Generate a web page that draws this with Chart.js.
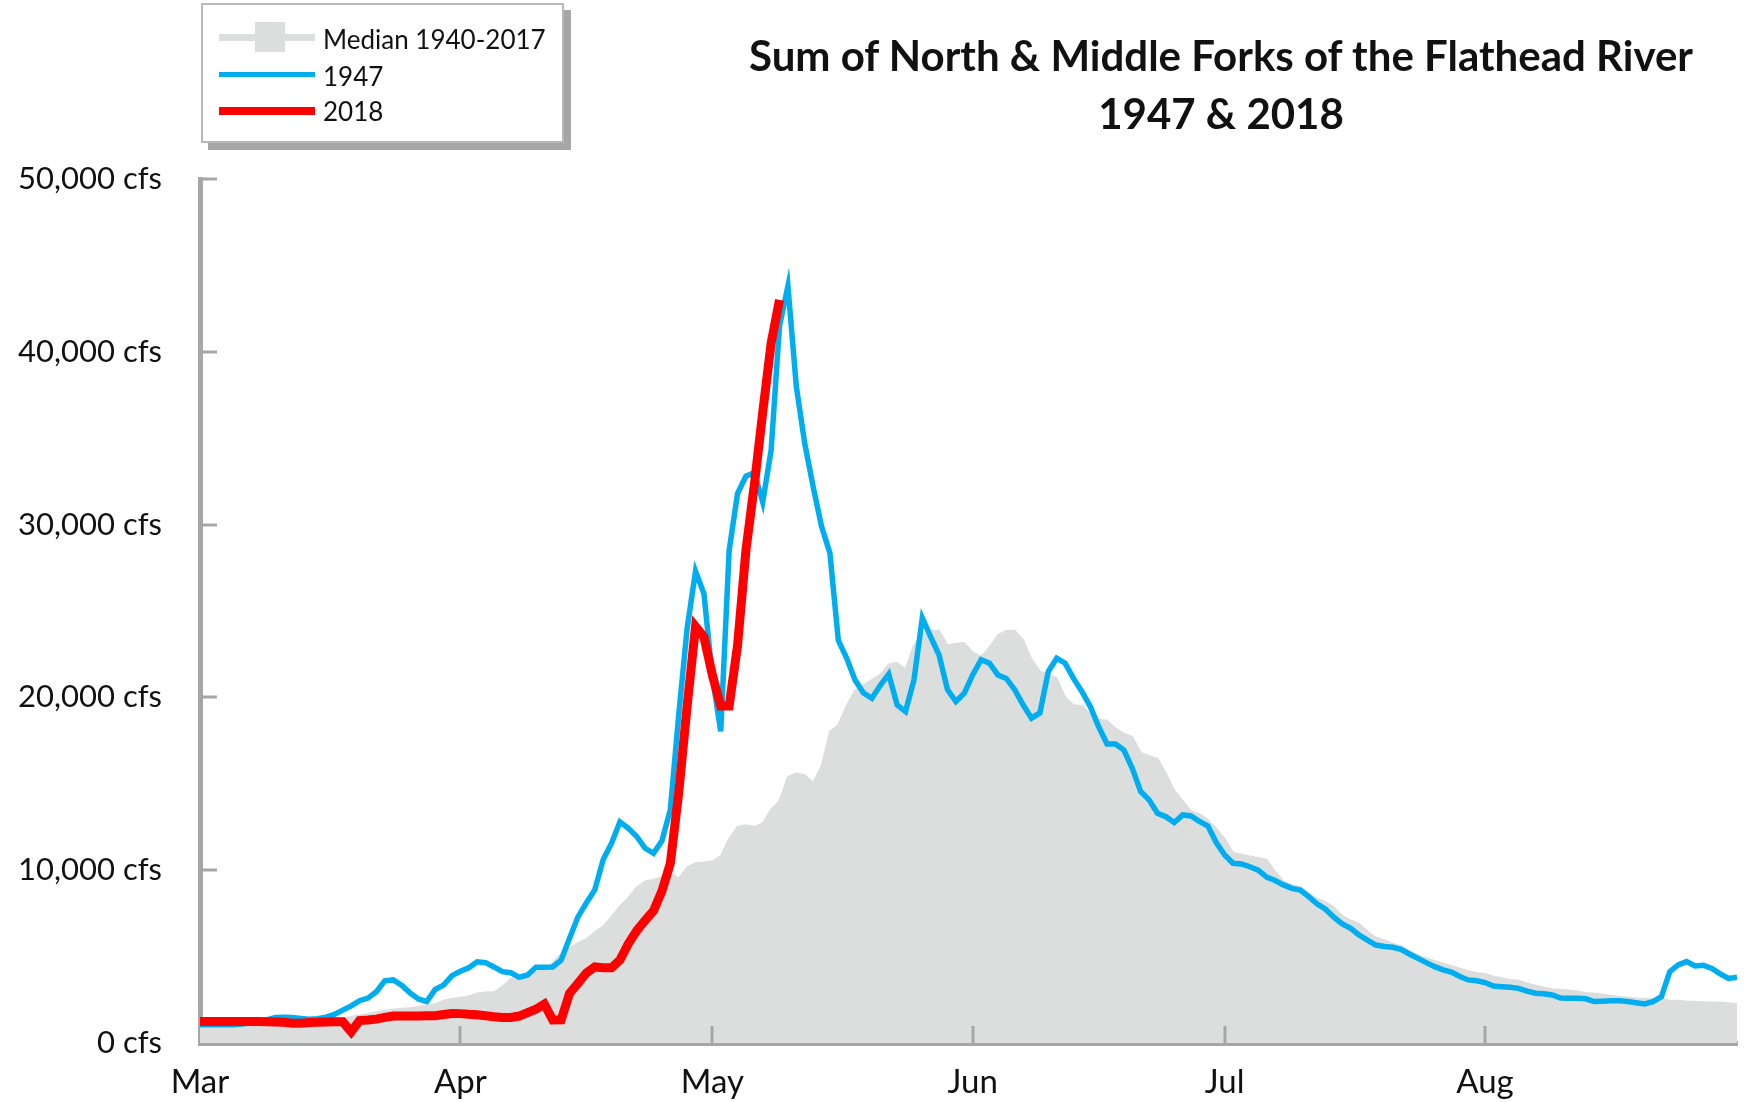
<!DOCTYPE html>
<html>
<head>
<meta charset="utf-8">
<script src="https://cdn.jsdelivr.net/npm/chart.js@4.4.1/dist/chart.umd.min.js"></script>
<style>
    body { margin: 0; background: #fff; }
    #wrap { position: relative; width: 1754px; height: 1102px; }
    #title {
        position: absolute; left: 721px; top: 26px; width: 1000px;
        text-align: center; font-family: Lato, sans-serif; font-weight: bold;
        font-size: 42px; line-height: 58px; color: #111;
    }
    #legend {
        position: absolute; left: 201px; top: 3px; width: 359px; height: 136px;
        border: 2px solid #b8b8b8; background: #fff; box-shadow: 7px 7px 0 #a6a6a6;
    }
    .sw { position: absolute; }
    .lt { position: absolute; font-family: Lato, sans-serif; font-size: 26px; line-height: 26px; color: #111; white-space: nowrap; }
</style>
</head>
<body>
<div id="wrap">
    <canvas id="flowChart" width="1754" height="1102"></canvas>
    <div id="title">Sum of North &amp; Middle Forks of the Flathead River<br>1947 &amp; 2018</div>
    <div id="legend"></div>
</div>
<script>
// daily flow in cfs, starting March 1
const monthLabels = ['Mar', 'Apr', 'May', 'Jun', 'Jul', 'Aug'];
const monthStartDays = [0, 31, 61, 92, 122, 153];
const yTicks = [0, 10000, 20000, 30000, 40000, 50000];

const median = [
    1000, 1000, 1000, 1010, 1020, 1030, 1050, 1080, 1100, 1130,
    1150, 1180, 1200, 1250, 1300, 1350, 1400, 1450, 1500, 1600,
    1680, 1780, 1870, 1930, 1980, 2010, 2080, 2150, 2250, 2450,
    2550, 2620, 2700, 2870, 2920, 2950, 3250, 3700, 3930, 4000,
    4100, 4250, 4650, 5150, 5450, 5800, 6000, 6400, 6750, 7300,
    7900, 8400, 9000, 9350, 9450, 9600, 9850, 9500, 10150, 10400,
    10450, 10500, 10800, 11800, 12500, 12600, 12500, 12700, 13500, 14000,
    15400, 15600, 15500, 15050, 16000, 18000, 18400, 19500, 20400, 20700,
    21000, 21300, 21900, 22000, 21600, 23000, 23600, 23850, 23850, 23000,
    23100, 23150, 22600, 22350, 22900, 23600, 23850, 23850, 23300, 22200,
    21500, 21300, 21100, 20000, 19550, 19500, 19000, 18700, 18650, 18200,
    17900, 17700, 16800, 16600, 16450, 15600, 14600, 14000, 13400, 13250,
    12900, 12400, 11800, 11000, 10900, 10800, 10700, 10600, 9900, 9350,
    9150, 9050, 8650, 8350, 8150, 7850, 7350, 7100, 6900, 6450,
    6100, 5950, 5750, 5600, 5300, 5100, 4900, 4750, 4600, 4450,
    4300, 4150, 4050, 4000, 3850, 3750, 3650, 3600, 3450, 3320,
    3200, 3110, 3080, 3040, 2980, 2900, 2850, 2800, 2740, 2660,
    2620, 2580, 2560, 2540, 2510, 2460, 2440, 2400, 2380, 2360,
    2350, 2340, 2300, 2260
];

const flow1947 = [
    1050, 1050, 1050, 1050, 1050, 1100, 1150, 1230, 1350, 1480,
    1490, 1470, 1420, 1380, 1400, 1500, 1650, 1900, 2150, 2450,
    2600, 2970, 3600, 3650, 3350, 2900, 2550, 2400, 3100, 3350,
    3900, 4150, 4350, 4700, 4650, 4400, 4130, 4070, 3800, 3940,
    4380, 4380, 4400, 4800, 6060, 7300, 8100, 8860, 10600, 11560,
    12800, 12430, 11950, 11270, 10980, 11700, 13500, 19000, 24000, 27300,
    26000, 21200, 18040, 28500, 31800, 32800, 33000, 31300, 34300, 41500,
    43800, 38000, 34700, 32200, 29900, 28350, 23300, 22260, 21000, 20250,
    19950, 20700, 21350, 19570, 19180, 21000, 24600, 23500, 22450, 20450,
    19760, 20250, 21300, 22180, 21980, 21300, 21100, 20450, 19570, 18800,
    19100, 21500, 22270, 21980, 21100, 20340, 19470, 18300, 17300, 17300,
    16950, 15900, 14550, 14070, 13300, 13100, 12760, 13200, 13140, 12820,
    12560, 11600, 10880, 10400, 10360, 10200, 10000, 9600, 9400, 9150,
    8950, 8850, 8470, 8050, 7740, 7280, 6890, 6640, 6250, 5950,
    5670, 5580, 5540, 5420, 5150, 4900, 4650, 4420, 4230, 4100,
    3850, 3650, 3600, 3500, 3300, 3260, 3220, 3160, 3000, 2880,
    2850, 2780, 2600, 2590, 2590, 2560, 2400, 2420, 2450, 2450,
    2400, 2330, 2260, 2390, 2680, 4130, 4520, 4710, 4460, 4500,
    4320, 4000, 3740, 3800
];

const flow2018 = [
    1250, 1250, 1250, 1250, 1250, 1250, 1250, 1240, 1230, 1220,
    1200, 1150, 1150, 1180, 1200, 1220, 1230, 1230, 650, 1300,
    1330, 1380, 1480, 1560, 1560, 1560, 1560, 1570, 1580, 1650,
    1710, 1700, 1660, 1640, 1580, 1520, 1480, 1480, 1560, 1760,
    1950, 2250, 1330, 1340, 2870, 3450, 4050, 4400, 4350, 4350,
    4800, 5750, 6500, 7100, 7650, 8800, 10400, 14500, 19500, 24100,
    23500, 21300, 19500, 19500, 23000, 28500, 32300, 36500, 40500, 43000
];

const seriesNames = ['Median 1940-2017', '1947', '2018'];
const colors = { median: '#dcdddd', y1947: '#00aeef', y2018: '#ff0000', axis: '#a6a6a6' };

function toPoints(arr) {
    return arr.map((v, i) => ({ x: i, y: v }));
}

// small tick marks that point into the plot
const innerTicks = {
    id: 'innerTicks',
    afterDatasetsDraw(chart) {
        const { ctx, chartArea, scales } = chart;
        ctx.save();
        ctx.strokeStyle = colors.axis;
        ctx.lineWidth = 3;
        yTicks.slice(1).forEach(v => {
            const py = Math.round(scales.y.getPixelForValue(v));
            ctx.beginPath();
            ctx.moveTo(chartArea.left, py);
            ctx.lineTo(chartArea.left + 17, py);
            ctx.stroke();
        });
        monthStartDays.slice(1).forEach(d => {
            const px = Math.round(scales.x.getPixelForValue(d));
            ctx.beginPath();
            ctx.moveTo(px, chartArea.bottom);
            ctx.lineTo(px, chartArea.bottom - 17);
            ctx.stroke();
        });
        ctx.restore();
    }
};

const ctx = document.querySelector('#flowChart').getContext('2d');
new Chart(ctx, {
    type: 'line',
    data: {
        datasets: [
            {
                label: seriesNames[2],
                data: toPoints(flow2018),
                borderColor: colors.y2018,
                borderWidth: 9,
                borderJoinStyle: 'miter',
                pointRadius: 0,
                fill: false,
                order: 1
            },
            {
                label: seriesNames[1],
                data: toPoints(flow1947),
                borderColor: colors.y1947,
                borderWidth: 5.5,
                borderJoinStyle: 'miter',
                pointRadius: 0,
                fill: false,
                order: 2
            },
            {
                label: seriesNames[0],
                data: toPoints(median),
                borderColor: colors.median,
                backgroundColor: colors.median,
                borderWidth: 2,
                pointRadius: 0,
                fill: 'origin',
                order: 3
            }
        ]
    },
    options: {
        responsive: false,
        animation: false,
        layout: { padding: { top: 179, right: 17, left: 0, bottom: 0 } },
        plugins: {
            legend: { display: false },
            title: { display: false },
            tooltip: { enabled: false }
        },
        scales: {
            x: {
                type: 'linear',
                min: 0,
                max: 183,
                z: 1,
                grid: { display: false, drawTicks: false },
                border: { display: true, color: colors.axis, width: 5 },
                afterBuildTicks: (scale) => {
                    scale.ticks = monthStartDays.map(v => ({ value: v }));
                },
                afterFit: (scale) => { scale.height = 59; },
                ticks: {
                    autoSkip: false,
                    maxRotation: 0,
                    padding: 20,
                    color: '#111',
                    font: { family: 'Lato', size: 33 },
                    callback: (v) => monthLabels[monthStartDays.indexOf(v)]
                }
            },
            y: {
                min: 0,
                max: 50000,
                z: 1,
                grid: { display: false, drawTicks: false },
                border: { display: true, color: colors.axis, width: 5 },
                afterBuildTicks: (scale) => {
                    scale.ticks = yTicks.map(v => ({ value: v }));
                },
                afterFit: (scale) => { scale.width = 200; },
                ticks: {
                    padding: 38,
                    color: '#111',
                    font: { family: 'Lato', size: 31 },
                    callback: (v) => v.toLocaleString('en-US') + ' cfs'
                }
            }
        }
    },
    plugins: [innerTicks]
});

// legend box drawn as html
const legend = document.querySelector('#legend');
const legendRows = [
    { name: seriesNames[0], color: colors.median, y: 32, h: 7, textTop: 21 },
    { name: seriesNames[1], color: colors.y1947, y: 69, h: 5, textTop: 58 },
    { name: seriesNames[2], color: colors.y2018, y: 106, h: 8, textTop: 93 }
];
legendRows.forEach((r, i) => {
    const line = document.createElement('div');
    line.className = 'sw';
    line.style.cssText = `left:16px;top:${r.y - r.h / 2}px;width:96px;height:${r.h}px;background:${r.color}`;
    legend.appendChild(line);
    if (i === 0) {
        const sq = document.createElement('div');
        sq.className = 'sw';
        sq.style.cssText = `left:52px;top:${r.y - 15}px;width:30px;height:30px;background:${r.color}`;
        legend.appendChild(sq);
    }
    const t = document.createElement('div');
    t.className = 'lt';
    t.style.left = '120px';
    t.style.top = r.textTop + 'px';
    t.textContent = r.name;
    legend.appendChild(t);
});
</script>
</body>
</html>
